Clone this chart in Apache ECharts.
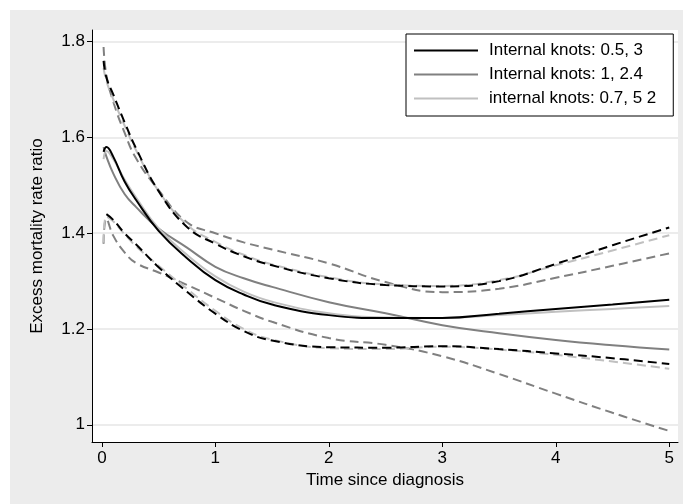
<!DOCTYPE html>
<html>
<head>
<meta charset="utf-8">
<script src="https://cdn.jsdelivr.net/npm/echarts@6/dist/echarts.min.js"></script>
<style>
  html, body { margin: 0; padding: 0; background: #fff; }
  #wrap { width: 683px; height: 504px; padding: 10px 0 0 10px; box-sizing: border-box; }
  #chart { width: 673px; height: 494px; }
</style>
</head>
<body>
<div id="wrap"><div id="chart"></div></div>
<script>
// time since diagnosis (years)
const times = [0.015, 0.04, 0.1, 0.2, 0.3, 0.5, 0.75, 1, 1.25, 1.5, 2, 2.5, 3, 3.5, 4, 4.5, 5]

// model 1: internal knots 0.5, 3
const est1 = [1.570, 1.580, 1.560, 1.508, 1.470, 1.405, 1.348, 1.302, 1.272, 1.251, 1.229, 1.223, 1.223, 1.232, 1.242, 1.251, 1.261]
const lo1 = [null, 1.440, 1.428, 1.400, 1.377, 1.329, 1.278, 1.232, 1.196, 1.176, 1.162, 1.161, 1.164, 1.158, 1.149, 1.139, 1.127]
const hi1 = [1.760, 1.725, 1.690, 1.632, 1.578, 1.488, 1.413, 1.378, 1.352, 1.333, 1.306, 1.292, 1.289, 1.300, 1.336, 1.375, 1.412]

// model 2: internal knots 1, 2.4
const est2 = [1.580, 1.560, 1.525, 1.482, 1.455, 1.410, 1.370, 1.330, 1.306, 1.288, 1.256, 1.233, 1.208, 1.191, 1.177, 1.166, 1.157]
const lo2 = [1.378, 1.430, 1.395, 1.360, 1.338, 1.318, 1.292, 1.265, 1.238, 1.215, 1.181, 1.167, 1.143, 1.106, 1.065, 1.025, 0.987]
const hi2 = [1.789, 1.730, 1.675, 1.610, 1.557, 1.490, 1.423, 1.400, 1.381, 1.366, 1.337, 1.298, 1.277, 1.284, 1.307, 1.332, 1.358]

// model 3: internal knots 0.7, 5 2
const est3 = [1.555, 1.572, 1.555, 1.512, 1.475, 1.410, 1.355, 1.310, 1.278, 1.257, 1.233, 1.224, 1.223, 1.229, 1.236, 1.242, 1.248]
const lo3 = [1.380, 1.435, 1.425, 1.398, 1.373, 1.332, 1.284, 1.238, 1.200, 1.178, 1.160, 1.158, 1.163, 1.157, 1.146, 1.132, 1.117]
const hi3 = [1.745, 1.718, 1.680, 1.625, 1.574, 1.488, 1.418, 1.382, 1.355, 1.335, 1.308, 1.293, 1.290, 1.302, 1.333, 1.364, 1.396]

const names = ['Internal knots: 0.5, 3', 'Internal knots: 1, 2.4', 'internal knots: 0.7, 5 2']
const xTicks = [0, 1, 2, 3, 4, 5]
const yTicks = [1, 1.2, 1.4, 1.6, 1.8]

const font = 'Liberation Sans, Arial, sans-serif'

function pairs (ys) {
  return times.map((t, i) => [t, ys[i]])
}

function line (name, ys, color, dashed) {
  return {
    name: name,
    type: 'line',
    data: pairs(ys),
    symbol: 'none',
    smooth: 0.45,
    silent: true,
    lineStyle: {
      color: color,
      width: 2,
      type: dashed ? [9, 5] : 'solid'
    },
    itemStyle: { color: color }
  }
}

const chart = echarts.init(document.getElementById('chart'))
const option = {
  backgroundColor: '#ececec',
  animation: false,
  grid: {
    left: 82,
    top: 20,
    right: 5,
    bottom: 62,
    show: true,
    backgroundColor: '#fff',
    borderWidth: 0,
    outerBoundsMode: 'none'
  },
  legend: {
    data: names,
    orient: 'vertical',
    left: 396,
    top: 24,
    icon: 'rect',
    itemWidth: 64,
    itemHeight: 2,
    itemGap: 7,
    padding: [8, 17, 9, 8],
    backgroundColor: '#fff',
    borderColor: '#000',
    borderWidth: 1,
    borderRadius: 0,
    selectedMode: false,
    textStyle: {
      fontFamily: font,
      fontSize: 17,
      color: '#000',
      padding: [0, 0, 0, 6]
    }
  },
  xAxis: {
    type: 'value',
    min: -0.087,
    max: 5.077,
    name: 'Time since diagnosis',
    nameLocation: 'middle',
    nameGap: 28,
    nameTextStyle: { fontFamily: font, fontSize: 17, color: '#000' },
    axisLine: { show: true, onZero: false, lineStyle: { color: '#000', width: 1 } },
    axisTick: { show: true, length: 5, customValues: xTicks, lineStyle: { color: '#000' } },
    axisLabel: { customValues: xTicks, margin: 8, fontFamily: font, fontSize: 17, color: '#000' },
    splitLine: { show: false }
  },
  yAxis: {
    type: 'value',
    min: 0.964,
    max: 1.8245,
    name: 'Excess mortality rate ratio',
    nameLocation: 'middle',
    nameGap: 46,
    nameRotate: 90,
    nameTextStyle: { fontFamily: font, fontSize: 17, color: '#000' },
    axisLine: { show: true, onZero: false, lineStyle: { color: '#000', width: 1 } },
    axisTick: { show: true, length: 5, customValues: yTicks, lineStyle: { color: '#000' } },
    axisLabel: {
      customValues: yTicks,
      margin: 7,
      fontFamily: font,
      fontSize: 17,
      color: '#000',
      formatter: v => String(+v.toFixed(1))
    },
    splitLine: { show: true, lineStyle: { color: '#e6e6e6', width: 1.5 } }
  },
  series: [
    line(names[1], est2, '#808080', false),
    line('lo2', lo2, '#808080', true),
    line('hi2', hi2, '#808080', true),
    line(names[2], est3, '#c0c0c0', false),
    line('lo3', lo3, '#c0c0c0', true),
    line('hi3', hi3, '#c0c0c0', true),
    line(names[0], est1, '#000', false),
    line('lo1', lo1, '#000', true),
    line('hi1', hi1, '#000', true)
  ]
}
chart.setOption(option)
window.addEventListener('resize', () => {
  chart.resize()
})
</script>
</body>
</html>
